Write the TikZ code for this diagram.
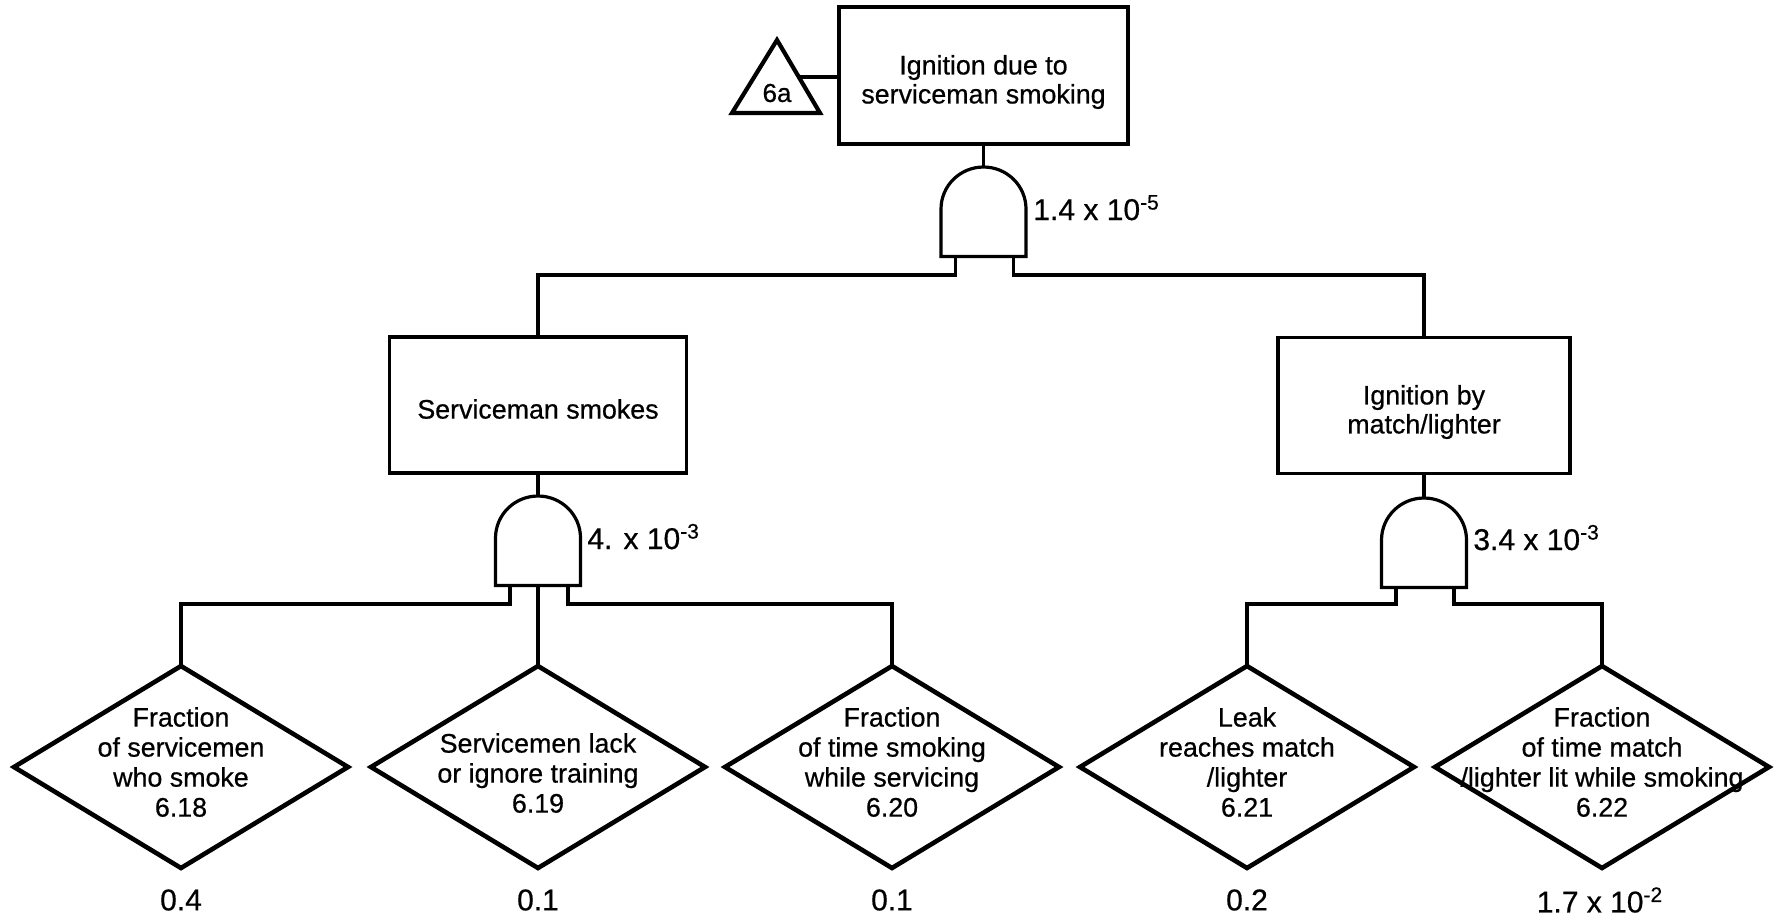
\documentclass[tikz,border=0pt]{standalone}
\usepackage{fontspec}
\setmainfont{Liberation Sans}
\newfontfamily\scanfont{Liberation Sans}[FakeBold=0.6]
\usetikzlibrary{shapes.geometric}
\tikzset{
  conn/.style={line width=1.6pt},
  box/.style={draw, line width=1.7pt, minimum width=#1, minimum height=68pt, inner sep=0pt, outer sep=0pt},
  btext/.style={align=center, inner sep=0pt, font=\scanfont\fontsize{13.4}{14.5}\selectfont},
  dia/.style={draw, diamond, line width=2.3pt, minimum width=167pt, minimum height=101pt, inner sep=0pt, outer sep=0pt},
  dtext/.style={align=center, inner sep=0pt, font=\scanfont\fontsize{13.4}{15}\selectfont},
  val/.style={inner sep=0pt, font=\scanfont\fontsize{15}{17}\selectfont},
  glabel/.style={inner sep=0pt, anchor=base west, font=\scanfont\fontsize{15}{17}\selectfont},
  andgate/.pic={
    \draw[line width=1.6pt] (-42.5,89.5) -- (-42.5,42)
      arc[start angle=180, end angle=360, x radius=42.5, y radius=42]
      -- (42.5,89.5) -- cycle;
    \coordinate (-top) at (0,0);
    \coordinate (-l) at (-28,89.5);
    \coordinate (-r) at (30,89.5);
    \coordinate (-c) at (0,89.5);
  }
}
\begin{document}
\begin{tikzpicture}[x=0.5pt, y=-0.5pt]
\useasboundingbox (0,0) rectangle (1776,923);

% top event
\node[box=144.5pt, minimum height=68.5pt] (top) at (983.5,75.5) {};
\node[btext] (topt) at (983.5,82) {Ignition due to\\serviceman smoking};

% transfer triangle
\draw[line width=2.1pt, line join=miter] (777,40) -- (820,113) -- (732,113) -- cycle;
\node[inner sep=0pt, font=\scanfont\fontsize{13}{15}\selectfont] (tri) at (777,93) {6a};
\coordinate (triR) at (799,77);
\draw[conn] (triR) -- (top.west |- triR);

% top gate
\pic (g0) at (983.5,167) {andgate};
\draw[conn] (top.south) -- (g0-top);
\node[glabel] (g0lab) at (1033,220) {1.4 x 10\textsuperscript{-5}};

% intermediate events
\node[box=148.5pt] (left) at (538,405) {};
\node[btext] (leftt) at (538,409) {Serviceman smokes};
\node[box=146pt] (right) at (1424,405.5) {};
\node[btext] (rightt) at (1424,412) {Ignition by\\match/lighter};

\coordinate (bus0) at (0,275);
\draw[conn] (g0-l) |- (bus0 -| left.north) -- (left.north);
\draw[conn] (g0-r) |- (bus0 -| right.north) -- (right.north);

% left gate
\pic (g1) at (538,496) {andgate};
\draw[conn] (left.south) -- (g1-top);
\node[glabel] (g1lab) at (587,549) {4. x 10\textsuperscript{-3}};

% right gate
\pic (g2) at (1424,498) {andgate};
\draw[conn] (right.south) -- (g2-top);
\node[glabel] (g2lab) at (1473,550) {3.4 x 10\textsuperscript{-3}};

% basic events
\node[dia] (d1) at (181,767) {};
\node[dia] (d2) at (538,767) {};
\node[dia] (d3) at (892,767) {};
\node[dia] (d4) at (1247,767) {};
\node[dia] (d5) at (1602,767) {};

\node[dtext] (d1t) at (181,762) {Fraction\\of servicemen\\who smoke\\6.18};
\node[dtext] (d2t) at (538,773) {Servicemen lack\\or ignore training\\6.19};
\node[dtext] (d3t) at (892,762) {Fraction\\of time smoking\\while servicing\\6.20};
\node[dtext] (d4t) at (1247,762) {Leak\\reaches match\\/lighter\\6.21};
\node[dtext] (d5t) at (1602,762) {Fraction\\of time match\\/lighter lit while smoking\\6.22};

\coordinate (bus1) at (0,604);
\draw[conn] (g1-l) |- (bus1 -| d1.north) -- (d1.north);
\draw[conn] (g1-c) -- (d2.north);
\draw[conn] (g1-r) |- (bus1 -| d3.north) -- (d3.north);
\draw[conn] (g2-l) |- (bus1 -| d4.north) -- (d4.north);
\draw[conn] (g2-r) |- (bus1 -| d5.north) -- (d5.north);

% values
\node[val] (v1) at (181,900) {0.4};
\node[val] (v2) at (538,900) {0.1};
\node[val] (v3) at (892,900) {0.1};
\node[val] (v4) at (1247,900) {0.2};
\node[val] (v5) at (1600,900) {1.7 x 10\textsuperscript{-2}};
\end{tikzpicture}
\end{document}
